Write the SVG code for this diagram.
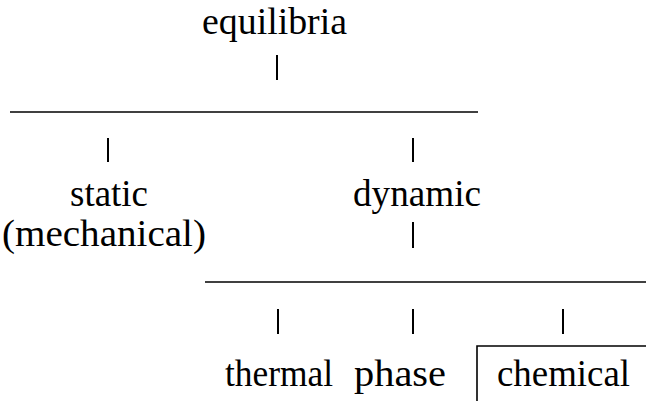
<svg xmlns="http://www.w3.org/2000/svg" width="646" height="401" viewBox="0 0 646 401">
<style>
text{font-family:"Liberation Serif","Times New Roman",serif;font-size:37px;fill:#000}
.c{stroke:#000;stroke-width:2;fill:none}
.h{stroke:#000;stroke-width:1.6;fill:none}
</style>
<rect width="646" height="401" fill="#fff"/>
<g id="equilibria"><text x="202" y="34" textLength="145" lengthAdjust="spacingAndGlyphs">equilibria</text></g>
<g id="static"><text x="70" y="206" textLength="78" lengthAdjust="spacingAndGlyphs">static</text><text x="2" y="246" textLength="204" lengthAdjust="spacingAndGlyphs">(mechanical)</text></g>
<g id="dynamic"><text x="353" y="206" textLength="128" lengthAdjust="spacingAndGlyphs">dynamic</text></g>
<g id="thermal"><text x="225" y="386" textLength="108" lengthAdjust="spacingAndGlyphs">thermal</text></g>
<g id="phase"><text x="354" y="386" textLength="92" lengthAdjust="spacingAndGlyphs">phase</text></g>
<g id="chemical"><text x="497" y="386" textLength="133" lengthAdjust="spacingAndGlyphs">chemical</text><polyline class="h" points="477,401 477,346 646,346"/></g>
<g id="connectors">
<line class="c" x1="277" y1="55" x2="277" y2="80"/>
<line class="h" x1="10" y1="112" x2="478" y2="112"/>
<line class="c" x1="108" y1="138" x2="108" y2="162"/>
<line class="c" x1="413" y1="138" x2="413" y2="162"/>
<line class="c" x1="413" y1="222" x2="413" y2="248"/>
<line class="h" x1="205" y1="282" x2="646" y2="282"/>
<line class="c" x1="278" y1="309" x2="278" y2="334"/>
<line class="c" x1="413" y1="309" x2="413" y2="334"/>
<line class="c" x1="563" y1="309" x2="563" y2="334"/>
</g>
</svg>
